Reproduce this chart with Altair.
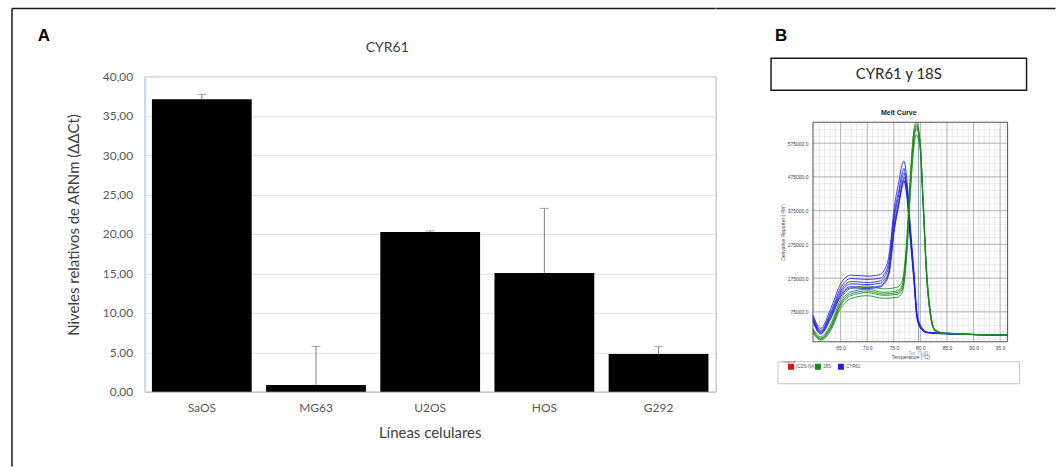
import altair as alt
import pandas as pd

# ---------------- Panel A: relative CYR61 mRNA levels ----------------
cell_lines = ["SaOS", "MG63", "U2OS", "HOS", "G292"]
mrna_levels = [37.1, 0.85, 20.25, 15.05, 4.77]
mrna_errors = [0.6, 4.9, 0.15, 8.2, 0.95]
y_ticks_a = [0, 5, 10, 15, 20, 25, 30, 35, 40]

# ---------------- Panel B: melt curve (CYR61 and 18S) ----------------
cyr61_temps = [59.8, 61.25, 63.13, 65.0, 66.88, 70.0, 72.5, 73.1, 74.07, 75.1, 75.95,
               76.57, 76.9, 77.5, 78.1, 78.76, 79.4, 80.3, 81.3, 84.4, 96.4]
cyr61_curves = [
    [66000, 26000, 84000, 158000, 184000, 181000, 186000, 196000, 240000, 386000, 462000,
     512000, 522000, 462000, 334000, 198000, 68000, 28000, 15000, 11000, 6000],
    [61000, 20000, 74000, 146000, 174000, 171000, 175000, 184000, 224000, 366000, 436000,
     486000, 500000, 436000, 312000, 187000, 61000, 25000, 14000, 11000, 6000],
    [58000, 17000, 68000, 137000, 165000, 162000, 167000, 176000, 210000, 354000, 423000,
     472000, 487000, 426000, 304000, 181000, 58000, 24000, 14000, 11000, 6000],
    [54000, 14000, 63000, 131000, 158000, 156000, 160000, 168000, 190000, 322000, 398000,
     450000, 474000, 438000, 318000, 192000, 64000, 25000, 14000, 11000, 6000],
    [49000, 11000, 58000, 124000, 150000, 147000, 152000, 160000, 196000, 335000, 405000,
     452000, 466000, 408000, 290000, 168000, 52000, 21000, 13000, 10000, 6000],
    [46000, 9000, 55000, 120000, 146000, 144000, 149000, 156000, 186000, 318000, 392000,
     444000, 462000, 420000, 302000, 178000, 56000, 22000, 13000, 10000, 6000],
]
s18_temps = [59.8, 61.25, 63.13, 65.0, 66.88, 70.0, 73.1, 75.6, 76.57, 77.5, 78.1,
             78.76, 79.2, 79.9, 80.5, 81.1, 81.9, 82.8, 84.4, 96.4]
s18_curves = [
    [26000, 1000, 38000, 112000, 144000, 152000, 143000, 148000, 166000, 306000, 476000,
     614000, 640000, 592000, 420000, 222000, 76000, 22000, 13000, 6000],
    [21000, -3000, 31000, 103000, 134000, 142000, 133000, 137000, 154000, 292000, 460000,
     600000, 625000, 574000, 398000, 200000, 65000, 18000, 12000, 6000],
    [19000, -5000, 28000, 98000, 128000, 137000, 128000, 132000, 147000, 285000, 452000,
     590000, 630000, 580000, 403000, 206000, 68000, 19000, 12000, 6000],
    [17000, -6000, 25000, 93000, 123000, 132000, 124000, 127000, 141000, 270000, 438000,
     578000, 618000, 586000, 412000, 214000, 72000, 20000, 12000, 6000],
    [12000, -9000, 19000, 85000, 114000, 123000, 115000, 118000, 131000, 255000, 418000,
     560000, 600000, 566000, 392000, 196000, 61000, 17000, 11000, 6000],
]
melt_major_temps = [65, 70, 75, 80, 85, 90, 95]
melt_minor_temps = list(range(60, 97))
melt_major_vals = [75000, 175000, 275000, 375000, 475000, 575000]
melt_minor_vals = list(range(-5000, 636000, 20000))
tm_value = 79.62
legend_names = ["ICDS NA1", "18S", "CYR61"]
legend_colors = ["#e01010", "#1a8a1a", "#2020e0"]

FONT = "Lato"
TXT = "#595959"
FRAME = "#1a1a1a"


def one(label):
    return alt.Chart(pd.DataFrame({"label": [label]}))


# ---------------- Panel A ----------------
bars_df = pd.DataFrame({"linea": cell_lines, "nivel": mrna_levels, "error": mrna_errors})
bars_df["tope"] = bars_df["nivel"] + bars_df["error"]

x_scale_a = alt.Scale(paddingInner=0.126, paddingOuter=0.063)
x_axis_a = alt.Axis(title=None, labelAngle=0, ticks=False, tickSize=0, labelPadding=11,
                    labelFontSize=12, labelColor=TXT, labelFont=FONT,
                    domainColor="#bfbfbf", domainWidth=1, grid=False)
y_scale_a = alt.Scale(domain=[0, 40], nice=False)
y_axis_a = alt.Axis(title=None, values=y_ticks_a,
                    labelExpr="replace(format(datum.value, '.2f'), '.', ',')",
                    labelOverlap=False, ticks=False, tickSize=0, labelPadding=12,
                    labelFontSize=12, labelColor=TXT, labelFont=FONT,
                    domainColor="#c5d9f1", domainWidth=2,
                    grid=True, gridColor="#e2e2e2", gridWidth=1)

base_a = alt.Chart(bars_df)
bars = base_a.mark_bar(color="black").encode(
    x=alt.X("linea:N", sort=cell_lines, scale=x_scale_a, axis=x_axis_a),
    y=alt.Y("nivel:Q", scale=y_scale_a, axis=y_axis_a))
err_rule = base_a.mark_rule(color="#808080", strokeWidth=1).encode(
    x=alt.X("linea:N", sort=cell_lines, scale=x_scale_a, axis=x_axis_a),
    y=alt.Y("nivel:Q", scale=y_scale_a, axis=y_axis_a), y2="tope:Q")
err_cap = base_a.mark_tick(color="#808080", thickness=1, size=9, orient="horizontal").encode(
    x=alt.X("linea:N", sort=cell_lines, scale=x_scale_a, axis=x_axis_a),
    y=alt.Y("tope:Q", scale=y_scale_a, axis=y_axis_a))

title_a = one("CYR61").mark_text(font=FONT, fontSize=14, color="#404040",
                                 align="center", baseline="middle").encode(
    text="label:N", x=alt.value(243), y=alt.value(-28))
ytitle_a = one("Niveles relativos de ARNm (ΔΔCt)").mark_text(
    font=FONT, fontSize=15, color="#404040", angle=270, align="center", baseline="middle").encode(
    text="label:N", x=alt.value(-71), y=alt.value(149))
xtitle_a = one("Líneas celulares").mark_text(
    font=FONT, fontSize=15, color="#404040", align="center", baseline="middle").encode(
    text="label:N", x=alt.value(286), y=alt.value(357))
letter_a = one("A").mark_text(font="Liberation Sans", fontSize=17, fontWeight="bold",
                              color="black", align="center", baseline="middle").encode(
    text="label:N", x=alt.value(-101), y=alt.value(-40))
frame_top_a = one("").mark_rule(color=FRAME, strokeWidth=1.5).encode(
    x=alt.value(-133), x2=alt.value(572), y=alt.value(-68))
frame_left_a = one("").mark_rule(color=FRAME, strokeWidth=1.5).encode(
    x=alt.value(-133), y=alt.value(-68), y2=alt.value(391))

panel_a = alt.layer(
    bars, err_rule, err_cap, title_a, ytitle_a, xtitle_a, letter_a, frame_top_a, frame_left_a
).properties(width=572, height=316,
             view=alt.ViewBackground(stroke="#b0b0b0", strokeWidth=1))

# ---------------- Panel B ----------------
rows = []
for i, curve in enumerate(cyr61_curves):
    for t, v in zip(cyr61_temps, curve):
        rows.append({"temp": t, "deriv": v, "gen": "CYR61", "rep": f"CYR61-{i}"})
for i, curve in enumerate(s18_curves):
    for t, v in zip(s18_temps, curve):
        rows.append({"temp": t, "deriv": v, "gen": "18S", "rep": f"18S-{i}"})
melt_df = pd.DataFrame(rows)

# the melt plot occupies the lower part of this panel (rows 46..266 of the view)
PTOP, PBOT, PW = 46, 266, 195
x_scale_b = alt.Scale(domain=[59.8, 96.4], nice=False, zero=False)
y_scale_b = alt.Scale(domain=[-13758, 637134], nice=False, zero=False, clamp=True,
                      range=[PBOT, PTOP])
x_axis_b = alt.Axis(title="Temperature (°C)", values=melt_major_temps, format=".1f",
                    labelOverlap=False, ticks=False, tickSize=0, domain=False, grid=False,
                    labelFontSize=5, labelColor="#444", labelPadding=4,
                    labelFont="Liberation Sans", titleFont="Liberation Sans",
                    titleFontSize=5, titleFontWeight="normal", titleColor="#444",
                    titlePadding=4)
y_axis_b = alt.Axis(title="Derivative Reporter (-Rn')", values=melt_major_vals,
                    format=".1f", labelOverlap=False, ticks=False, tickSize=0, domain=False,
                    grid=False, labelFontSize=5, labelColor="#444", labelPadding=5,
                    labelFont="Liberation Sans", titleFont="Liberation Sans",
                    titleFontSize=5, titleFontWeight="normal", titleColor="#444",
                    titlePadding=2)

minor_v = alt.Chart(pd.DataFrame({"temp": melt_minor_temps})).mark_rule(
    color="#dcdcdc", strokeWidth=0.6).encode(
    x=alt.X("temp:Q", scale=x_scale_b, axis=x_axis_b), y=alt.value(PTOP), y2=alt.value(PBOT))
major_v = alt.Chart(pd.DataFrame({"temp": melt_major_temps})).mark_rule(
    color="#a8a8a8", strokeWidth=0.8).encode(
    x=alt.X("temp:Q", scale=x_scale_b, axis=x_axis_b), y=alt.value(PTOP), y2=alt.value(PBOT))
minor_h = alt.Chart(pd.DataFrame({"deriv": melt_minor_vals})).mark_rule(
    color="#dcdcdc", strokeWidth=0.6).encode(
    y=alt.Y("deriv:Q", scale=y_scale_b, axis=y_axis_b))
major_h = alt.Chart(pd.DataFrame({"deriv": melt_major_vals})).mark_rule(
    color="#a8a8a8", strokeWidth=0.8).encode(
    y=alt.Y("deriv:Q", scale=y_scale_b, axis=y_axis_b))

tm_df = pd.DataFrame({"temp": [tm_value], "label": [f"Tm: {tm_value}"]})
tm_rule = alt.Chart(tm_df).mark_rule(color="#7f9fc8", strokeWidth=1).encode(
    x=alt.X("temp:Q", scale=x_scale_b, axis=x_axis_b), y=alt.value(PTOP), y2=alt.value(PBOT))
tm_text = alt.Chart(tm_df).mark_text(font="Liberation Sans", fontSize=4.5, color="#6f8fc8",
                                     align="center", baseline="middle", dy=-1).encode(
    x=alt.X("temp:Q", scale=x_scale_b, axis=x_axis_b), y=alt.value(279), text="label:N")

curves = alt.Chart(melt_df).mark_line(strokeWidth=1, opacity=0.85,
                                      interpolate="monotone").encode(
    x=alt.X("temp:Q", scale=x_scale_b, axis=x_axis_b),
    y=alt.Y("deriv:Q", scale=y_scale_b, axis=y_axis_b),
    color=alt.Color("gen:N", scale=alt.Scale(domain=legend_names, range=legend_colors),
                    legend=None),
    detail="rep:N",
)

plot_border = one("").mark_rect(fill=None, stroke="#555555", strokeWidth=1).encode(
    x=alt.value(0), x2=alt.value(PW), y=alt.value(PTOP), y2=alt.value(PBOT))
melt_title = one("Melt Curve").mark_text(font="Liberation Sans", fontSize=7, fontWeight="bold",
                                         color="#222", align="center", baseline="middle").encode(
    text="label:N", x=alt.value(86), y=alt.value(37))
letter_b = one("B").mark_text(font="Liberation Sans", fontSize=17, fontWeight="bold",
                              color="black", align="center", baseline="middle").encode(
    text="label:N", x=alt.value(-32), y=alt.value(-40))
box_b = one("").mark_rect(fill="white", stroke=FRAME, strokeWidth=1.5).encode(
    x=alt.value(-42), x2=alt.value(214), y=alt.value(-18), y2=alt.value(14))
box_text = one("CYR61 y 18S").mark_text(font=FONT, fontSize=15, color="#262626",
                                        align="center", baseline="middle").encode(
    text="label:N", x=alt.value(86), y=alt.value(-2))
frame_top_b = one("").mark_rule(color=FRAME, strokeWidth=1.5).encode(
    x=alt.value(-97), x2=alt.value(243), y=alt.value(-68))

legend_box = one("").mark_rect(fill="white", stroke="#c4c4c4", strokeWidth=1).encode(
    x=alt.value(-35), x2=alt.value(207), y=alt.value(286), y2=alt.value(308))
legend_cap = one("Legend").mark_text(font="Liberation Sans", fontSize=4, color="#777",
                                     align="left", baseline="middle").encode(
    text="label:N", x=alt.value(-31), y=alt.value(286))
legend_layers = []
for name, col, px, tx in zip(legend_names, legend_colors, [-22, 5, 28], [-17, 10, 33]):
    legend_layers.append(one(name).mark_square(size=36, color=col, opacity=1).encode(
        x=alt.value(px), y=alt.value(291)))
    legend_layers.append(one(name).mark_text(font="Liberation Sans", fontSize=4.5, color="#555",
                                             align="left", baseline="middle").encode(
        text="label:N", x=alt.value(tx), y=alt.value(291)))

panel_b = alt.layer(
    minor_v, minor_h, major_v, major_h, tm_rule, curves, plot_border, tm_text, melt_title,
    box_b, box_text, letter_b, frame_top_b, legend_box, legend_cap, *legend_layers
).properties(width=PW, height=PBOT,
             view=alt.ViewBackground(stroke=None))

chart = alt.hconcat(panel_a, panel_b, spacing=-2.5).properties(
    padding={"left": 10, "top": 6, "right": 0, "bottom": 0},
    background="white",
)

chart.save("out.html", embed_options={"renderer": "svg", "actions": False})
